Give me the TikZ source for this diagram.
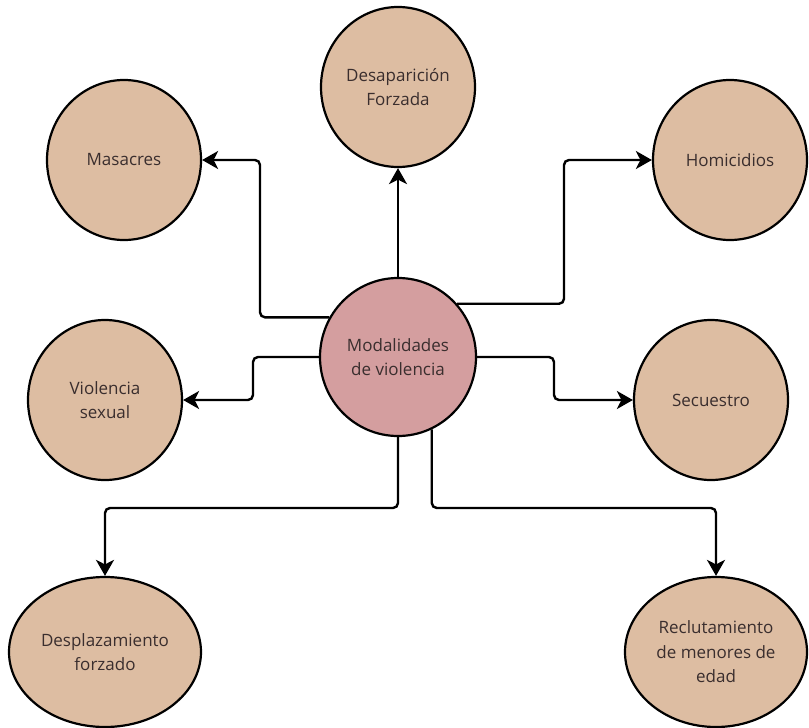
\documentclass[tikz,border=0pt]{standalone}
\usepackage{fontspec}
\setmainfont{Open Sans}
\usetikzlibrary{arrows.meta,shapes.geometric}
\definecolor{peach}{HTML}{DDBDA2}
\definecolor{rose}{HTML}{D49E9F}
\definecolor{txt}{HTML}{3A2E2E}
\tikzset{
  bubble/.style={ellipse, draw=black, line width=2.2pt, fill=peach, minimum width=154pt, minimum height=160pt, inner sep=0pt, align=center, text=txt, font=\fontsize{17}{24.5}\selectfont},
  hub/.style={bubble, fill=rose, minimum width=156pt, minimum height=158pt},
  conn/.style={line width=2.4pt, rounded corners=5pt, -{Stealth[length=16pt, width=18pt, inset=4.5pt]}}
}
\begin{document}
\begin{tikzpicture}[x=1pt,y=-1pt]
\useasboundingbox (0,0) rectangle (809,728);
\node[hub] (c) at (398,357) {Modalidades\\de violencia};
\node[bubble] (d) at (398,87) {Desaparición\\Forzada};
\node[bubble] (m) at (124,160) {Masacres};
\node[bubble] (h) at (730,160) {Homicidios};
\node[bubble] (v) at (105,400) {Violencia\\sexual};
\node[bubble] (s) at (711,400) {Secuestro};
\node[bubble, minimum width=192pt, minimum height=150pt] (dp) at (105,652) {Desplazamiento\\forzado};
\node[bubble, minimum width=182pt, minimum height=150pt] (r) at (716,652) {Reclutamiento\\de menores de\\edad};
\coordinate (mk) at (260,0);
\coordinate (hk) at (564,0);
\coordinate (vk) at (253,0);
\coordinate (sk) at (554,0);
\coordinate (dk) at (0,508);
\draw[conn] (c.north) -- (d.south);
\draw[conn] (c.150) -| (mk |- m.east) -- (m.east);
\draw[conn] (c.42) -| (hk |- h.west) -- (h.west);
\draw[conn] (c.180) -| (vk |- v.east) -- (v.east);
\draw[conn] (c.0) -| (sk |- s.west) -- (s.west);
\draw[conn] (c.270) |- (dk -| dp.north) -- (dp.north);
\draw[conn] (c.-65) |- (dk -| r.north) -- (r.north);
\end{tikzpicture}
\end{document}
